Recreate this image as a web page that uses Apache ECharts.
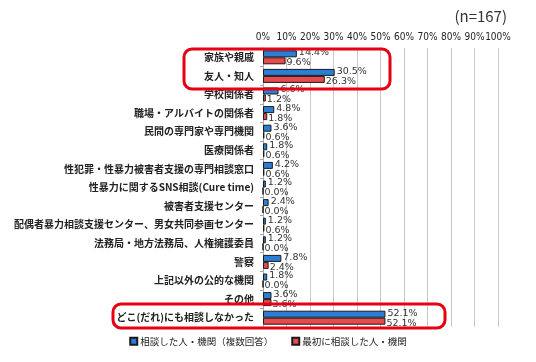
<!DOCTYPE html>
<html>
<head>
<meta charset="utf-8">
<script src="https://cdn.jsdelivr.net/npm/echarts@6/dist/echarts.min.js"></script>
<style>
  html, body { margin: 0; padding: 0; background: #fff; }
  #chart { width: 536px; height: 362px; }
</style>
</head>
<body>
<div id="chart"></div>
<script>
var categories = [
    '家族や親戚',
    '友人・知人',
    '学校関係者',
    '職場・アルバイトの関係者',
    '民間の専門家や専門機関',
    '医療関係者',
    '性犯罪・性暴力被害者支援の専門相談窓口',
    '性暴力に関するSNS相談(Cure time)',
    '被害者支援センター',
    '配偶者暴力相談支援センター、男女共同参画センター',
    '法務局・地方法務局、人権擁護委員',
    '警察',
    '上記以外の公的な機関',
    'その他',
    'どこ(だれ)にも相談しなかった'
];
var consulted = [14.4, 30.5, 6.6, 4.8, 3.6, 1.8, 4.2, 1.2, 2.4, 1.2, 1.2, 7.8, 1.8, 3.6, 52.1];
var firstConsulted = [9.6, 26.3, 1.2, 1.8, 0.6, 0.6, 0.6, 0.0, 0.0, 0.6, 0.0, 2.4, 0.0, 3.6, 52.1];
var seriesNames = ['相談した人・機関（複数回答）', '最初に相談した人・機関'];

var font = '"Noto Sans CJK JP", "Noto Sans", sans-serif';

function pct(p) {
    return p.value.toFixed(1) + '%';
}

var chart = echarts.init(document.getElementById('chart'));
chart.setOption({
    animation: false,
    textStyle: { fontFamily: font },
    title: {
        text: '(n=167)',
        right: 24,
        top: 4,
        textStyle: { fontSize: 15, fontWeight: 'normal', color: '#333', fontFamily: font }
    },
    legend: {
        data: seriesNames,
        bottom: 11,
        left: 'center',
        itemWidth: 7,
        itemHeight: 7,
        itemGap: 18,
        icon: 'rect',
        textStyle: { fontSize: 9.5, color: '#222', padding: [0, 0, 0, -2] }
    },
    grid: { left: 263, right: 38, top: 48, bottom: 35 },
    xAxis: {
        type: 'value',
        position: 'top',
        min: 0,
        max: 100,
        interval: 10,
        axisLabel: {
            formatter: '{value}%', fontSize: 10, color: '#222', margin: 6,
            showMaxLabel: true, hideOverlap: false, fontFamily: 'DejaVu Sans Condensed'
        },
        axisLine: { show: false },
        axisTick: { show: false },
        splitLine: { lineStyle: { color: '#c8c8c8' } }
    },
    yAxis: {
        type: 'category',
        inverse: true,
        data: categories,
        axisLine: { lineStyle: { color: '#aaa' } },
        axisTick: { show: true, length: 3, lineStyle: { color: '#aaa' } },
        axisLabel: { fontSize: 10, fontWeight: 'bold', color: '#222', margin: 9 }
    },
    series: [{
        name: seriesNames[0],
        type: 'bar',
        data: consulted,
        barWidth: 7,
        barGap: '0%',
        itemStyle: { color: '#2a7fd4', borderColor: '#1a1a1a', borderWidth: 1 },
        label: {
            show: true, position: 'right', distance: 2, offset: [0, -1],
            formatter: pct, fontSize: 9.5, color: '#333', fontFamily: 'DejaVu Sans'
        }
    }, {
        name: seriesNames[1],
        type: 'bar',
        data: firstConsulted,
        barWidth: 7,
        itemStyle: { color: '#e8494b', borderColor: '#1a1a1a', borderWidth: 1 },
        label: {
            show: true, position: 'right', distance: 1, offset: [0, 2],
            formatter: pct, fontSize: 9.5, color: '#333', fontFamily: 'DejaVu Sans'
        }
    }],
    graphic: [{
        type: 'rect',
        shape: { x: 184, y: 49, width: 206, height: 40, r: 8 },
        style: { fill: 'none', stroke: '#e60012', lineWidth: 3 },
        z: 100
    }, {
        type: 'rect',
        shape: { x: 113, y: 304, width: 332, height: 24, r: 8 },
        style: { fill: 'none', stroke: '#e60012', lineWidth: 3 },
        z: 100
    }]
});
</script>
</body>
</html>
